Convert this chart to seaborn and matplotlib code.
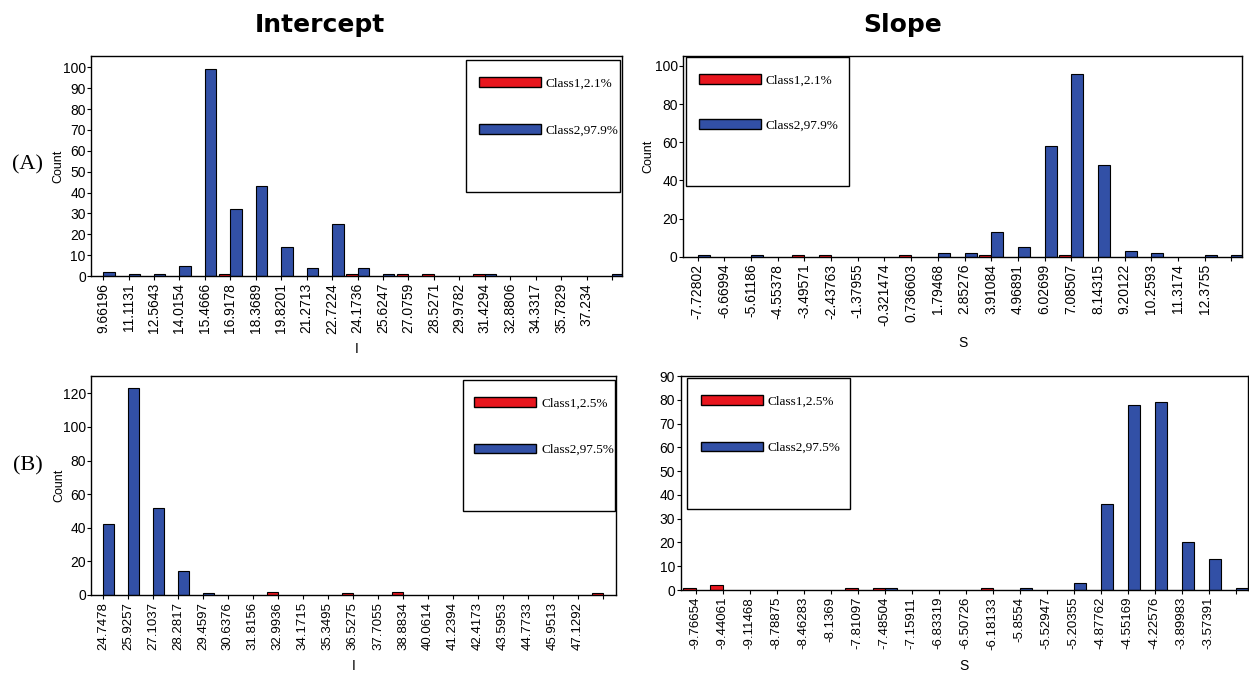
import numpy as np
import pandas as pd
import matplotlib
matplotlib.use("Agg")
import matplotlib.pyplot as plt
import matplotlib.patches as mpatches
import seaborn as sns

# bin labels and counts
a_int_labels = ["9.66196", "11.1131", "12.5643", "14.0154", "15.4666", "16.9178", "18.3689",
                "19.8201", "21.2713", "22.7224", "24.1736", "25.6247", "27.0759", "28.5271",
                "29.9782", "31.4294", "32.8806", "34.3317", "35.7829", "37.234", ""]
a_int_class1 = [0, 0, 0, 0, 0, 1, 0, 0, 0, 0, 1, 0, 1, 1, 0, 1, 0, 0, 0, 0, 0]
a_int_class2 = [2, 1, 1, 5, 99, 32, 43, 14, 4, 25, 4, 1, 0, 0, 0, 1, 0, 0, 0, 0, 1]

a_slope_labels = ["-7.72802", "-6.66994", "-5.61186", "-4.55378", "-3.49571", "-2.43763",
                  "-1.37955", "-0.321474", "0.736603", "1.79468", "2.85276", "3.91084",
                  "4.96891", "6.02699", "7.08507", "8.14315", "9.20122", "10.2593",
                  "11.3174", "12.3755", ""]
a_slope_class1 = [0, 0, 0, 0, 1, 1, 0, 0, 1, 0, 0, 1, 0, 0, 1, 0, 0, 0, 0, 0, 0]
a_slope_class2 = [1, 0, 1, 0, 0, 0, 0, 0, 0, 2, 2, 13, 5, 58, 96, 48, 3, 2, 0, 1, 1]

b_int_labels = ["24.7478", "25.9257", "27.1037", "28.2817", "29.4597", "30.6376", "31.8156",
                "32.9936", "34.1715", "35.3495", "36.5275", "37.7055", "38.8834", "40.0614",
                "41.2394", "42.4173", "43.5953", "44.7733", "45.9513", "47.1292", ""]
b_int_class1 = [0, 0, 0, 0, 0, 0, 0, 2, 0, 0, 1, 0, 2, 0, 0, 0, 0, 0, 0, 0, 1]
b_int_class2 = [42, 123, 52, 14, 1, 0, 0, 0, 0, 0, 0, 0, 0, 0, 0, 0, 0, 0, 0, 0, 0]

b_slope_labels = ["-9.76654", "-9.44061", "-9.11468", "-8.78875", "-8.46283", "-8.1369",
                  "-7.81097", "-7.48504", "-7.15911", "-6.83319", "-6.50726", "-6.18133",
                  "-5.8554", "-5.52947", "-5.20355", "-4.87762", "-4.55169", "-4.22576",
                  "-3.89983", "-3.57391", ""]
b_slope_class1 = [1, 2, 0, 0, 0, 0, 1, 1, 0, 0, 0, 1, 0, 0, 0, 0, 0, 0, 0, 0, 0]
b_slope_class2 = [0, 0, 0, 0, 0, 0, 0, 1, 0, 0, 0, 0, 1, 0, 3, 36, 78, 79, 20, 13, 1]

legend_a = ["Class1,2.1%", "Class2,97.9%"]
legend_b = ["Class1,2.5%", "Class2,97.5%"]

sns.set_style("ticks")
plt.rcParams["font.family"] = ["Liberation Sans", "DejaVu Sans"]
plt.rcParams["axes.edgecolor"] = "black"
plt.rcParams["axes.labelcolor"] = "black"
plt.rcParams["text.color"] = "black"
plt.rcParams["xtick.color"] = "black"
plt.rcParams["ytick.color"] = "black"

palette = {"Class1": "#e8161e", "Class2": "#3250a6"}
W, H = 1249, 673
fig = plt.figure(figsize=(W / 100, H / 100), dpi=100)


def box(l, t, r, b):
    return [l / W, 1 - b / H, (r - l) / W, (b - t) / H]


def long_df(c1, c2):
    n = len(c1)
    df = pd.DataFrame({"bin": list(range(n)) * 2,
                       "count": c1 + c2,
                       "cls": ["Class1"] * n + ["Class2"] * n})
    return df[df["count"] > 0]


def panel(rect, labels, c1, c2, ylim, yticks, xlim, xlabel, xlab_top, ylabel, leg_labels,
          leg_rect, leg_anchor, spacing, tick_fs=10):
    ax = fig.add_axes(box(*rect))
    sns.barplot(data=long_df(c1, c2), x="bin", y="count", hue="cls",
                order=list(range(len(labels))), hue_order=["Class1", "Class2"],
                palette=palette, saturation=1, width=0.9, dodge=True, errorbar=None,
                edgecolor="black", linewidth=0.8, legend=False, ax=ax)
    ax.set_xlim(*xlim)
    ax.set_ylim(*ylim)
    ax.set_yticks(yticks)
    ax.set_xticks(range(len(labels)))
    ax.set_xticklabels(labels, rotation=90, fontsize=tick_fs)
    ax.tick_params(axis="y", labelsize=10, length=3, width=0.8, pad=1)
    ax.tick_params(axis="x", length=3, width=0.8, pad=2)
    for s in ax.spines.values():
        s.set_linewidth(1)
    ax.set_xlabel(xlabel, fontsize=10)
    # put the x label where the reference has it (top edge, in pixels)
    ax.xaxis.set_label_coords(0.5, -(xlab_top - rect[3]) / (rect[3] - rect[1]))
    if ylabel:
        ax.set_ylabel("Count", fontsize=9)
        ax.yaxis.set_label_coords(ylabel, 0.5)
    else:
        ax.set_ylabel("")

    l, t, r, b = leg_rect
    ax.add_patch(mpatches.Rectangle((l / W, 1 - b / H), (r - l) / W, (b - t) / H,
                                    transform=fig.transFigure, facecolor="white",
                                    edgecolor="black", linewidth=1, zorder=4,
                                    clip_on=False))
    handles = [mpatches.Patch(facecolor=palette["Class1"], edgecolor="black", linewidth=1),
               mpatches.Patch(facecolor=palette["Class2"], edgecolor="black", linewidth=1)]
    leg = ax.legend(handles, leg_labels, loc="upper left",
                    bbox_to_anchor=(leg_anchor[0] / W, 1 - leg_anchor[1] / H),
                    bbox_transform=fig.transFigure, frameon=False, borderpad=0,
                    borderaxespad=0, handlelength=4.7, handleheight=0.75,
                    handletextpad=0.4, labelspacing=spacing,
                    prop={"family": "Liberation Serif", "size": 9.5})
    leg.set_zorder(5)
    return ax


panel((91.4, 56, 622, 276), a_int_labels, a_int_class1, a_int_class2,
      (0, 105.4), range(0, 101, 10), (-0.46, 20.39), "I", 342, -0.05, legend_a,
      (466, 60, 620, 192), (478.6, 77), 2.65)

panel((683.3, 56, 1242, 256.7), a_slope_labels, a_slope_class1, a_slope_class2,
      (0, 105.2), range(0, 101, 20), (-0.54, 20.4), "S", 336, -0.051, legend_a,
      (685.6, 57, 848.7, 185.7), (698.7, 74), 2.47)

panel((91.4, 376, 616, 595), b_int_labels, b_int_class1, b_int_class2,
      (0, 130.3), range(0, 121, 20), (-0.46, 20.52), "I", 659, -0.05, legend_b,
      (462.5, 380, 615, 510.7), (474, 397), 2.6, tick_fs=9.5)

panel((680.7, 376, 1248, 590), b_slope_labels, b_slope_class1, b_slope_class2,
      (0, 90), range(0, 91, 10), (-0.55, 20.45), "S", 659, None, legend_b,
      (687, 378, 850, 509), (700.6, 395), 2.6, tick_fs=9.5)

fig.text(320 / W, 1 - 25 / H, "Intercept", ha="center", va="center",
         fontsize=18, fontweight="bold", family="DejaVu Sans")
fig.text(903 / W, 1 - 25 / H, "Slope", ha="center", va="center",
         fontsize=18, fontweight="bold", family="DejaVu Sans")
fig.text(28 / W, 1 - 165 / H, "(A)", ha="center", va="center",
         fontsize=16, family="Liberation Serif")
fig.text(28 / W, 1 - 466 / H, "(B)", ha="center", va="center",
         fontsize=16, family="Liberation Serif")

fig.savefig("out.png", dpi=100)
